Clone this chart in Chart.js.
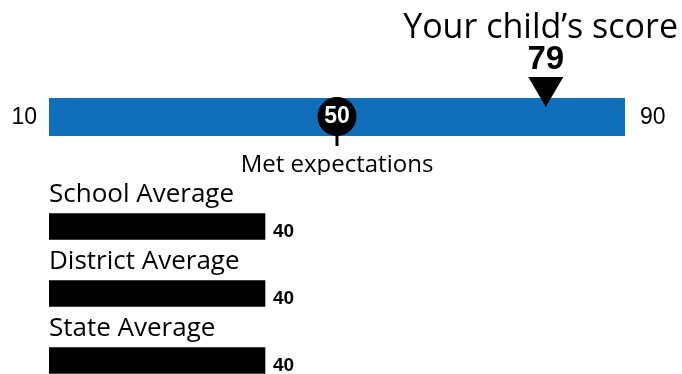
<!DOCTYPE html>
<html>
<head>
<meta charset="utf-8">
<script src="https://cdn.jsdelivr.net/npm/chart.js@4.4.1/dist/chart.umd.min.js"></script>
<style>
  html, body { margin: 0; padding: 0; background: #fff; overflow: hidden; }
  #wrap { position: relative; width: 682px; height: 374px; overflow: hidden; }
  #gauge { position: absolute; left: 0; top: 0; }
  #averages { position: absolute; left: 0; top: 175px; }
</style>
</head>
<body>
<div id="wrap">
  <canvas id="gauge" width="682" height="175"></canvas>
  <canvas id="averages" width="682" height="220"></canvas>
</div>
<script>
const scaleMin = 10;
const scaleMax = 90;
const childScore = 79;
const expectation = 50;
const scoreTitle = 'Your child\u2019s score';
const expectationLabel = 'Met expectations';
const averageLabels = ['School Average', 'District Average', 'State Average'];
const averageValues = [40, 40, 40];

const BLUE = '#0f6fba';
const OPEN = '"Open Sans", sans-serif';
const ARIAL = '"Liberation Sans", Arial, sans-serif';

// title, end labels, expectation dot and score pointer on top of the range bar
const gaugeMarks = {
  id: 'gaugeMarks',
  afterDatasetsDraw(chart) {
    const ctx = chart.ctx;
    const x = chart.scales.x;
    const bar = chart.getDatasetMeta(0).data[0];
    const cy = bar.y;

    ctx.save();
    ctx.fillStyle = '#000';

    ctx.font = '34px ' + OPEN;
    ctx.textAlign = 'right';
    ctx.textBaseline = 'alphabetic';
    ctx.fillText(scoreTitle, 678, 38);

    // range ends
    ctx.font = '23px ' + ARIAL;
    ctx.textBaseline = 'middle';
    ctx.textAlign = 'right';
    ctx.fillText(String(scaleMin), x.left - 12, cy + 1);
    ctx.textAlign = 'left';
    ctx.fillText(String(scaleMax), x.right + 15, cy + 1);

    // expectation marker
    const ex = x.getPixelForValue(expectation);
    ctx.fillRect(ex - 1.5, cy + 17, 3, 12);
    ctx.beginPath();
    ctx.arc(ex, cy - 0.5, 19.5, 0, Math.PI * 2);
    ctx.fill();
    ctx.fillStyle = '#fff';
    ctx.font = 'bold 23px ' + ARIAL;
    ctx.textAlign = 'center';
    ctx.fillText(String(expectation), ex, cy);

    ctx.fillStyle = '#000';
    ctx.font = '24px ' + OPEN;
    ctx.textBaseline = 'alphabetic';
    ctx.fillText(expectationLabel, ex, 172);

    // child's score pointer
    const sx = x.getPixelForValue(childScore);
    const tip = cy - 10;
    ctx.beginPath();
    ctx.moveTo(sx - 17.5, tip - 30);
    ctx.lineTo(sx + 17.5, tip - 30);
    ctx.lineTo(sx, tip);
    ctx.closePath();
    ctx.fill();
    ctx.font = 'bold 33px ' + ARIAL;
    ctx.fillText(String(childScore), sx, 69);
    ctx.restore();
  }
};

// name above each average bar and its value to the right
const averageText = {
  id: 'averageText',
  afterDatasetsDraw(chart) {
    const ctx = chart.ctx;
    const meta = chart.getDatasetMeta(0);
    ctx.save();
    ctx.fillStyle = '#000';
    meta.data.forEach((bar, i) => {
      const top = bar.y - bar.height / 2;
      ctx.font = '26px ' + OPEN;
      ctx.textAlign = 'left';
      ctx.textBaseline = 'alphabetic';
      ctx.fillText(averageLabels[i], chart.chartArea.left, top - 12);
      ctx.font = 'bold 19px ' + ARIAL;
      ctx.fillText(String(averageValues[i]), bar.x + 8, top + bar.height - 3);
    });
    ctx.restore();
  }
};

const hiddenScales = {
  x: { display: false, min: scaleMin, max: scaleMax },
  y: { display: false }
};

new Chart(document.getElementById('gauge'), {
  type: 'bar',
  data: {
    labels: ['Score'],
    datasets: [{ data: [[scaleMin, scaleMax]], backgroundColor: BLUE, barThickness: 38 }]
  },
  options: {
    indexAxis: 'y',
    responsive: false,
    animation: false,
    layout: { padding: { left: 49, right: 57, top: 98, bottom: 39 } },
    scales: hiddenScales,
    plugins: { legend: { display: false }, tooltip: { enabled: false } }
  },
  plugins: [gaugeMarks]
});

new Chart(document.getElementById('averages'), {
  type: 'bar',
  data: {
    labels: averageLabels,
    datasets: [{ data: averageValues, backgroundColor: '#000', barThickness: 26 }]
  },
  options: {
    indexAxis: 'y',
    responsive: false,
    animation: false,
    layout: { padding: { left: 49, right: 57, top: 18, bottom: 1 } },
    scales: hiddenScales,
    plugins: { legend: { display: false }, tooltip: { enabled: false } }
  },
  plugins: [averageText]
});
</script>
</body>
</html>
